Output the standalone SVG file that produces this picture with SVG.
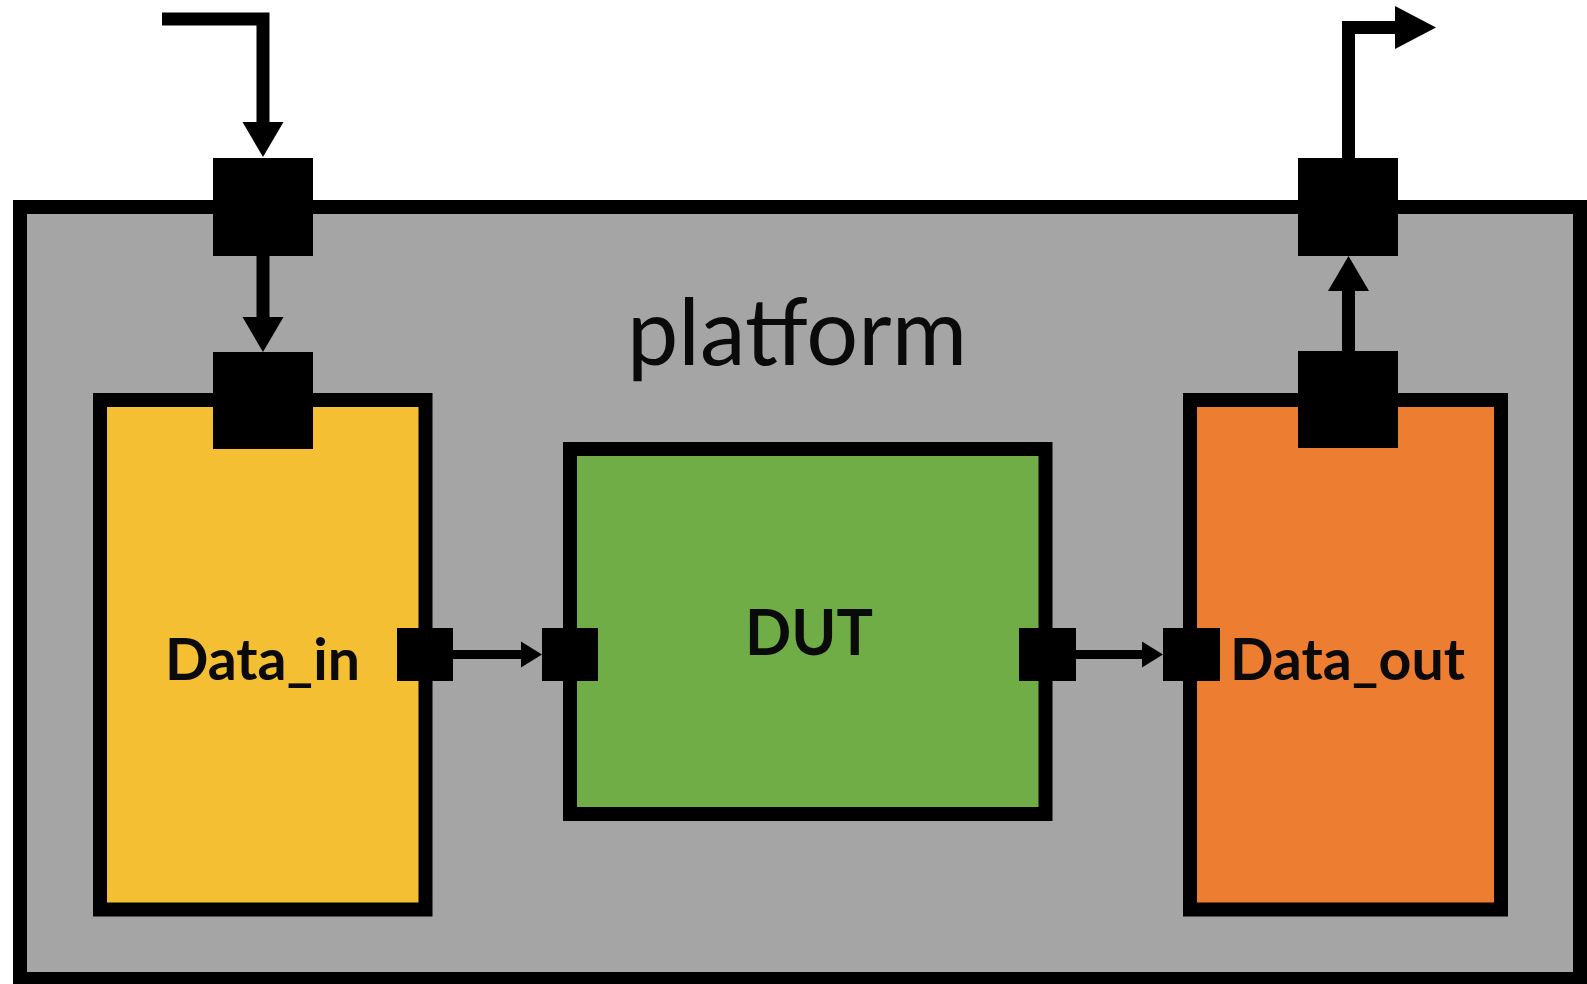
<svg xmlns="http://www.w3.org/2000/svg" width="1587" height="984" viewBox="0 0 1587 984">
  <style>
    .box { stroke: #000; stroke-width: 14; }
    .port { fill: #000; }
    .wire { fill: none; stroke: #000; stroke-linejoin: miter; }
    .head { fill: #000; stroke: none; }
    .label { font-family: Lato, "Liberation Sans", sans-serif; fill: #0a0a0a; }
    .bold { font-weight: bold; }
  </style>

  <rect width="1587" height="984" fill="#fff"/>

  <g id="platform">
    <rect class="box" x="20" y="207" width="1560" height="772" fill="#a5a5a5"/>
    <text class="label" x="627" y="365" font-size="93" textLength="340" lengthAdjust="spacingAndGlyphs">platform</text>
    <rect class="port" x="213" y="158" width="100" height="98"/>
    <rect class="port" x="1298" y="158" width="100" height="98"/>
  </g>

  <g id="data_in">
    <rect class="box" x="100" y="400" width="325.5" height="509.5" fill="#f5bf34"/>
    <rect class="port" x="213" y="352" width="100" height="97"/>
    <rect class="port" x="397" y="628" width="56" height="53"/>
    <text class="label bold" x="165" y="680" font-size="58" textLength="195" lengthAdjust="spacingAndGlyphs">Data_in</text>
  </g>

  <g id="dut">
    <rect class="box" x="570" y="449" width="475.5" height="365" fill="#70ad47"/>
    <rect class="port" x="542" y="628" width="56" height="53"/>
    <rect class="port" x="1019" y="628" width="57" height="53"/>
    <text class="label bold" x="745" y="655" font-size="63" textLength="128" lengthAdjust="spacingAndGlyphs">DUT</text>
  </g>

  <g id="data_out">
    <rect class="box" x="1190" y="400" width="311" height="509.5" fill="#ed7d31"/>
    <rect class="port" x="1298" y="351" width="100" height="97"/>
    <rect class="port" x="1163" y="628" width="57" height="53"/>
    <text class="label bold" x="1230" y="680" font-size="58" textLength="235" lengthAdjust="spacingAndGlyphs">Data_out</text>
  </g>

  <g id="connectors">
    <!-- input into the platform -->
    <path class="wire" stroke-width="13" d="M162,19 H263 V124"/>
    <polygon class="head" points="263,157 242.5,122 283.5,122"/>

    <!-- platform port to Data_in -->
    <path class="wire" stroke-width="13" d="M263,256 V319"/>
    <polygon class="head" points="263,352 242.5,317 283.5,317"/>

    <!-- Data_out to platform port -->
    <path class="wire" stroke-width="13" d="M1348.5,351 V289"/>
    <polygon class="head" points="1348.5,256 1328,291 1369,291"/>

    <!-- output from the platform -->
    <path class="wire" stroke-width="13" d="M1348.5,158 V27.5 H1397"/>
    <polygon class="head" points="1436,27.5 1395,6 1395,49"/>

    <!-- Data_in to DUT -->
    <path class="wire" stroke-width="9" d="M453,654.5 H523"/>
    <polygon class="head" points="542,654.5 521,641.5 521,667.5"/>

    <!-- DUT to Data_out -->
    <path class="wire" stroke-width="9" d="M1076,654.5 H1144"/>
    <polygon class="head" points="1163,654.5 1142,641.5 1142,667.5"/>
  </g>
</svg>
